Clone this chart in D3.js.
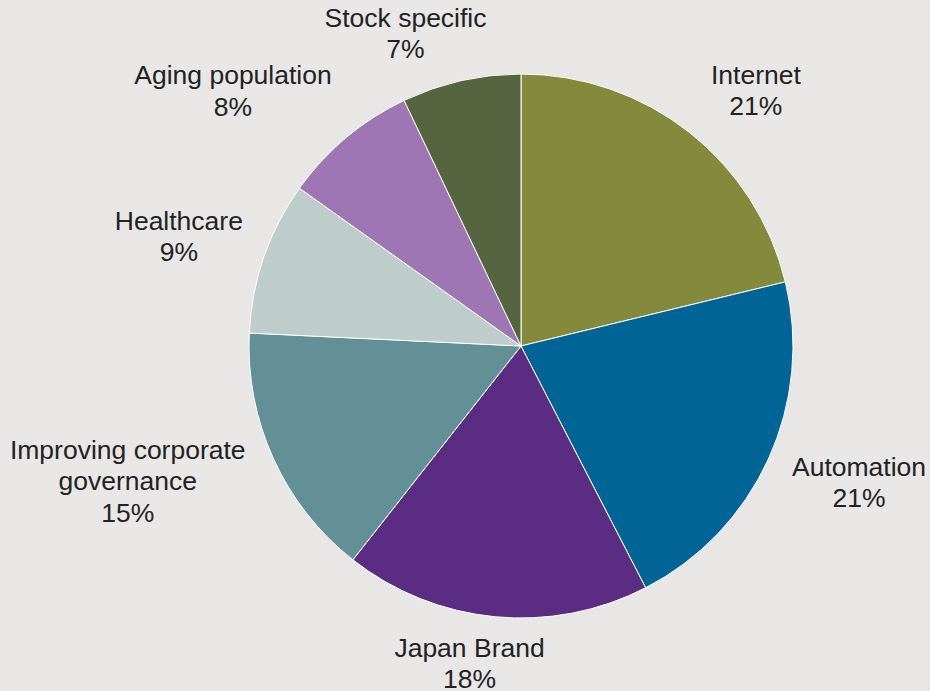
<!DOCTYPE html>
<html>
<head>
<meta charset="utf-8">
<script src="https://cdn.jsdelivr.net/npm/d3@7/dist/d3.min.js"></script>
<style>
  html, body { margin: 0; padding: 0; background: #e8e7e6; }
  svg { display: block; }
  text { font-family: Arial, "Liberation Sans", Helvetica, sans-serif; fill: #222; }
</style>
</head>
<body>
<svg id="chart" width="930" height="691"></svg>
<script>
// Theme allocation of the portfolio (share of holdings, %)
const categories = ["Internet", "Automation", "Japan Brand", "Improving corporate governance",
                    "Healthcare", "Aging population", "Stock specific"];
const labelLines = [["Internet"], ["Automation"], ["Japan Brand"], ["Improving corporate", "governance"],
                    ["Healthcare"], ["Aging population"], ["Stock specific"]];
const values = [21, 21, 18, 15, 9, 8, 7];
const colors = ["#848a3b", "#006496", "#5a2d82", "#638f97", "#bfcccc", "#9e76b4", "#566540"];

const width = 930, height = 691;
const cx = 521, cy = 346, radius = 272;
const fontSize = 26.5, lineHeight = 31.5;

// Small hand nudges for label placement, keyed by slice name
const labelNudge = {
  "Internet": [23, 3],
  "Automation": [6, 0],
  "Japan Brand": [-16, -10],
  "Improving corporate governance": [-15, -8],
  "Healthcare": [0, -2],
  "Aging population": [-33, -3],
  "Stock specific": [-32, 8]
};

const svg = d3.select("#chart");
const g = svg.append("g").attr("transform", `translate(${cx},${cy})`);

const data = categories.map((c, i) => ({ name: c, lines: labelLines[i], value: values[i], color: colors[i] }));

const pie = d3.pie().value(d => d.value).sort(null);
const arc = d3.arc().innerRadius(0).outerRadius(radius);
const arcs = pie(data);

g.selectAll("path.slice")
  .data(arcs)
  .join("path")
  .attr("class", "slice")
  .attr("d", arc)
  .attr("fill", d => d.data.color)
  .attr("stroke", "#ffffff")
  .attr("stroke-width", 1);

// Labels sit just outside the rim; each box is pushed outward so its near edge touches the anchor
const labelRadius = radius + 26;
const labels = g.selectAll("g.label")
  .data(arcs)
  .join("g")
  .attr("class", "label");

labels.each(function(d) {
  const sel = d3.select(this);
  const lines = d.data.lines.concat([d.data.value + "%"]);
  const t = sel.append("text")
    .attr("text-anchor", "middle")
    .style("font-size", fontSize + "px");
  lines.forEach((ln, i) => {
    t.append("tspan").attr("x", 0).attr("y", i * lineHeight).text(ln);
  });
  const bb = t.node().getBBox();
  const mid = (d.startAngle + d.endAngle) / 2;
  const ax = labelRadius * Math.sin(mid);
  const ay = -labelRadius * Math.cos(mid);
  const boxCx = ax + (bb.width / 2) * Math.sin(mid);
  const boxCy = ay - (bb.height / 2) * Math.cos(mid);
  const nudge = labelNudge[d.data.name] || [0, 0];
  const dx = boxCx - (bb.x + bb.width / 2) + nudge[0];
  const dy = boxCy - (bb.y + bb.height / 2) + nudge[1];
  sel.attr("transform", `translate(${dx},${dy})`);
});
</script>
</body>
</html>
